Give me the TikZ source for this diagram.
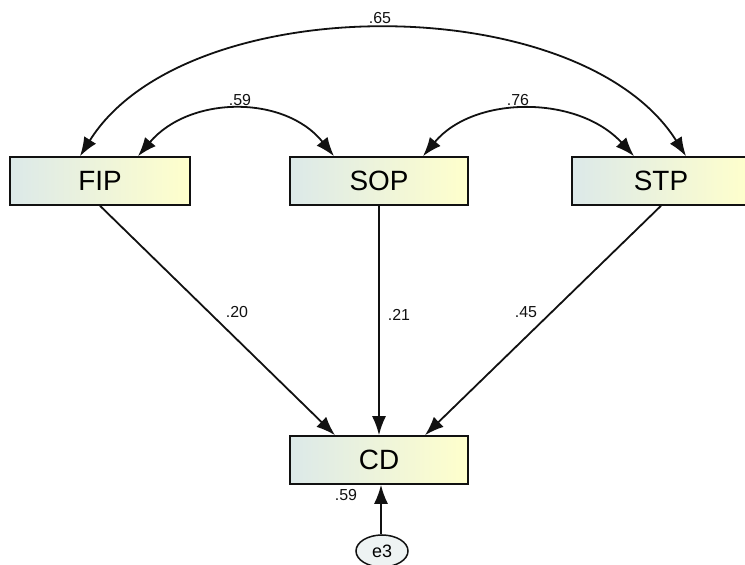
\documentclass[tikz,border=0pt]{standalone}
\usepackage{fontspec}
\setmainfont{Liberation Sans}
\usepackage{xcolor}
\usetikzlibrary{arrows.meta,shapes.geometric}
\definecolor{boxleft}{HTML}{DCE9E9}
\definecolor{boxright}{HTML}{FFFFCC}
\definecolor{errfill}{HTML}{EEF3F3}
\definecolor{pathink}{HTML}{111111}
\tikzset{
  obsvar/.style={draw=pathink,line width=1.6bp,minimum width=178bp,minimum height=48bp,
    left color=boxleft,right color=boxright,font=\fontsize{28}{28}\selectfont},
  errvar/.style={draw=pathink,line width=1.5bp,ellipse,minimum width=52bp,minimum height=32bp,
    inner sep=0pt,fill=errfill,font=\fontsize{18}{18}\selectfont},
  coef/.style={font=\fontsize{16}{16}\selectfont,text=pathink},
  path arrow/.style={draw=pathink,line width=1.8bp,-{Latex[length=19bp,width=14bp]}},
  cov arrow/.style={draw=pathink,line width=1.8bp,{Latex[length=19bp,width=14bp]}-{Latex[length=19bp,width=14bp]}}
}

\begin{document}
\begin{tikzpicture}[x=1bp,y=1bp]
    \useasboundingbox (0,0) rectangle (745,565);
    \fill[white] (0,0) rectangle (745,565);

    \node[obsvar,minimum width=180bp] (fip) at (100,384) {FIP};
    \node[obsvar] (sop) at (379,384) {SOP};
    \node[obsvar] (stp) at (661,384) {STP};
    \node[obsvar] (cd) at (379,105) {CD};
    \node[errvar] (e3) at (382,14) {e3};

    % regression paths
    \draw[path arrow] (fip.south) -- ([xshift=-44bp]cd.north);
    \draw[path arrow] (sop.south) -- (cd.north);
    \draw[path arrow] (stp.south) -- ([xshift=46bp]cd.north);
    \draw[path arrow] ([xshift=-1bp]e3.north) -- ([xshift=2bp]cd.south);

    % covariances
    \draw[cov arrow] ([xshift=-20bp]fip.north) .. controls (185,577) and (580,577) .. ([xshift=25bp]stp.north);
    \draw[cov arrow] ([xshift=38bp]fip.north) .. controls (190,470) and (285,470) .. ([xshift=-45bp]sop.north);
    \draw[cov arrow] ([xshift=44bp]sop.north) .. controls (474,470) and (578,470) .. ([xshift=-27bp]stp.north);

    \node[coef] (c65) at (380,547) {.65};
    \node[coef] (c59a) at (240,465) {.59};
    \node[coef] (c76) at (518,465) {.76};
    \node[coef] (c20) at (237,253) {.20};
    \node[coef] (c21) at (399,250) {.21};
    \node[coef] (c45) at (526,253) {.45};
    \node[coef] (c59b) at (346,70) {.59};
  \end{tikzpicture}
\end{document}
